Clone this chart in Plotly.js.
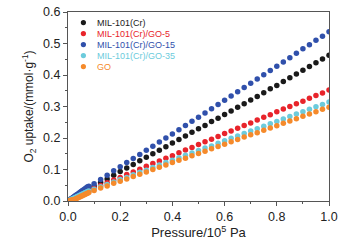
<!DOCTYPE html>
<html>
<head>
<meta charset="utf-8">
<script src="https://cdn.plot.ly/plotly-3.0.1.min.js"></script>
<style>html,body{margin:0;padding:0;background:#fff;}#chart{width:360px;height:249px;}</style>
</head>
<body>
<div id="chart"></div>
<script>
// Pressure (10^5 Pa): dense low-pressure points, then regular points
const pressure = [0,0.005,0.01,0.015,0.02,0.025,0.03,0.035,0.04,0.045,0.05,0.055,0.06,0.065,0.07,0.075,0.08,
  0.1,0.125,0.15,0.175,0.2,0.225,0.25,0.275,0.3,0.325,0.35,0.375,0.4,0.425,0.45,0.475,0.5,0.525,0.55,0.575,
  0.6,0.625,0.65,0.675,0.7,0.725,0.75,0.775,0.8,0.825,0.85,0.875,0.9,0.925,0.95,0.975,1.0];

const seriesNames = ["MIL-101(Cr)","MIL-101(Cr)/GO-5","MIL-101(Cr)/GO-15","MIL-101(Cr)/GO-35","GO"];
const seriesColors = ["#1a1a1a","#e8242b","#3050ab","#6ccbdc","#f58a2b"];

const mil101 = [0,0.003,0.005,0.008,0.010,0.013,0.015,0.018,0.020,0.023,0.025,0.028,0.030,0.033,0.035,0.038,0.040,
  0.047,0.059,0.070,0.082,0.094,0.105,0.116,0.128,0.139,0.150,0.161,0.172,0.184,0.195,0.206,0.218,0.229,0.240,0.252,0.263,
  0.275,0.286,0.298,0.309,0.321,0.332,0.344,0.356,0.367,0.379,0.391,0.403,0.415,0.427,0.439,0.451,0.463];

const go5 = [0,0.003,0.005,0.007,0.009,0.011,0.013,0.015,0.017,0.019,0.021,0.023,0.025,0.027,0.029,0.031,0.033,
  0.041,0.049,0.058,0.067,0.075,0.084,0.092,0.101,0.110,0.119,0.127,0.136,0.144,0.153,0.162,0.170,0.179,0.188,0.196,0.205,
  0.214,0.222,0.231,0.240,0.248,0.257,0.266,0.274,0.283,0.292,0.300,0.309,0.317,0.326,0.335,0.343,0.352];

const go15 = [0,0.003,0.006,0.009,0.012,0.015,0.018,0.021,0.024,0.027,0.030,0.033,0.036,0.039,0.042,0.045,0.047,
  0.055,0.068,0.082,0.096,0.109,0.122,0.135,0.148,0.161,0.174,0.187,0.200,0.213,0.226,0.240,0.253,0.266,0.279,0.293,0.306,
  0.320,0.333,0.347,0.360,0.374,0.387,0.401,0.414,0.428,0.441,0.455,0.469,0.483,0.496,0.510,0.523,0.537];

const go35 = [0,0.002,0.004,0.006,0.008,0.010,0.012,0.014,0.016,0.018,0.020,0.022,0.024,0.026,0.028,0.030,0.032,
  0.037,0.045,0.052,0.060,0.068,0.075,0.083,0.091,0.098,0.106,0.114,0.122,0.129,0.137,0.145,0.152,0.160,0.168,0.175,0.183,
  0.191,0.199,0.206,0.214,0.222,0.229,0.237,0.245,0.252,0.260,0.268,0.276,0.283,0.291,0.299,0.306,0.314];

const goOnly = [0,0.001,0.002,0.003,0.004,0.005,0.007,0.009,0.011,0.013,0.015,0.017,0.019,0.021,0.023,0.025,0.027,
  0.033,0.041,0.048,0.056,0.063,0.070,0.078,0.085,0.092,0.100,0.107,0.114,0.122,0.129,0.136,0.144,0.151,0.158,0.166,0.173,
  0.180,0.188,0.195,0.203,0.210,0.217,0.225,0.232,0.239,0.247,0.254,0.261,0.269,0.276,0.283,0.291,0.298];

const seriesValues = [mil101, go5, go15, go35, goOnly];

const FONT = "'Liberation Sans', Arial, sans-serif";

const traces = seriesValues.map((vals, i) => ({
  type: 'scatter', mode: 'markers', x: pressure, y: vals, name: seriesNames[i],
  marker: {color: seriesColors[i], size: 5.5, line: {width: 0}},
  showlegend: false
}));

// Custom compact legend (text as annotations, dots as shapes)
const legendX = 0.059, legendTextX = 0.105;
const legendY0 = 0.944, legendDy = 0.0582;
const annotations = seriesNames.map((n, i) => ({
  xref: 'paper', yref: 'paper', x: legendTextX, y: legendY0 - i * legendDy,
  xanchor: 'left', yanchor: 'middle', showarrow: false, text: n,
  font: {family: FONT, size: 9, color: seriesColors[i]}
}));
const shapes = seriesNames.map((n, i) => ({
  type: 'circle', xref: 'paper', yref: 'paper', xsizemode: 'pixel', ysizemode: 'pixel',
  xanchor: legendX, yanchor: legendY0 - i * legendDy, x0: -2.6, x1: 2.6, y0: -2.6, y1: 2.6,
  fillcolor: seriesColors[i], line: {width: 0}
}));

const axisCommon = {
  showline: true, linecolor: '#555', linewidth: 1, mirror: true,
  ticks: 'outside', ticklen: 4, tickwidth: 1, tickcolor: '#555',
  showgrid: false, zeroline: false,
  tickfont: {family: FONT, size: 12.5, color: '#222'}
};

const layout = {
  width: 360, height: 249,
  margin: {l: 68, r: 31, t: 12, b: 48},
  paper_bgcolor: '#fff', plot_bgcolor: '#fff',
  xaxis: Object.assign({}, axisCommon, {
    range: [0, 1], dtick: 0.2, tickformat: '.1f',
    minor: {dtick: 0.1, ticks: 'outside', ticklen: 2, tickcolor: '#555'},
    title: {text: 'Pressure/10<sup>5</sup> Pa', font: {family: FONT, size: 13, color: '#222'}, standoff: 4}
  }),
  yaxis: Object.assign({}, axisCommon, {
    range: [0, 0.6], dtick: 0.1, tickformat: '.1f',
    minor: {dtick: 0.05, ticks: 'outside', ticklen: 2, tickcolor: '#555'},
    title: {text: 'O<sub>2</sub> uptake/(mmol·g<sup>-1</sup>)', font: {family: FONT, size: 12, color: '#222'}, standoff: 6}
  }),
  annotations: annotations,
  shapes: shapes
};

Plotly.newPlot('chart', traces, layout, {displayModeBar: false, staticPlot: true});
</script>
</body>
</html>
